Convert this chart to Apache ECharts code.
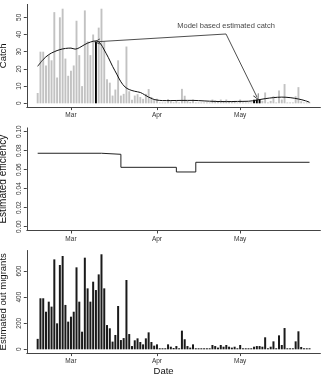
<!DOCTYPE html>
<html>
<head>
<meta charset="utf-8">
<script src="https://cdn.jsdelivr.net/npm/echarts@6/dist/echarts.min.js"></script>
<style>html,body{margin:0;padding:0;background:#fff}#c{width:327px;height:381px}</style>
</head>
<body>
<div id="c"></div>
<script>
// Day numbers are counted from 1 March (day 0). Data run from 17 Feb (day -12) to 26 May (day 86).
const startDay = -12;
const tickDays = [0, 31, 61];
const tickNames = ['Mar', 'Apr', 'May'];

// Observed catch (grey bars); null = day with model-based estimate
const catchVals = [
  6, 30, 30, 22, 28, 25, 53, 15, 50, 55, 26, 16,
  19, 22, 48, 28, 10, 54, 36, 28, 40, null, 44, 55, 36, 14, 12, 4.5, 8, 25,
  4.5, 5.5, 33, 7, 2, 4.5, 5.3, 3.7, 2.6, 5.5, 8.3, 3.7, 1.9,
  2.6, 0.5, 0.5, 0.5, 2.4, 1.2, 0.6, 1.5, 0.5, 8.4, 4.4, 1.4, 0.8, 2.2,
  0.5, 0.5, 0.5, 0.5, 0.5, 0.5, 2.2, 1.7, 0.9, 2.2, 1.4, 2.2, 1.4, 0.9, 1.4,
  0.5, 2.2, 0.5, 0.5, 0.5, 0.5, null, null, null, 1.4, 6.3, 0.5, 1.4, 4.1,
  0.5, 7.4, 2.2, 11.2, 0.5, 0.5, 0.5, 4.1, 9.4, 1.2, 0.5, 0.5, 0.5
];
// Model-based estimated catch (black bars)
const estDays = [9, 66, 67, 68];
const estVals = [35.8, 2.0, 2.2, 2.2];

// Model curve of estimated catch
const curveDays = [-12, -10, -8, -6, -4, -2, 0, 1.5, 3, 5, 7, 9, 10.5, 12, 13.5, 15, 16.5, 18, 19.5, 21, 23, 25, 26.5, 28, 29.5, 31, 33, 36, 40, 44, 48, 52, 56, 60, 64, 67, 70, 73, 76, 79, 82, 84.5, 86];
const curveVals = [21.5, 25.5, 28.3, 30, 31.2, 31.9, 32.1, 31.5, 32.3, 34.2, 35.6, 36.3, 35, 31, 26.5, 21.5, 17, 12.5, 9.5, 8, 7, 6.3, 5, 3.6, 2.5, 1.9, 1.6, 1.6, 1.7, 1.7, 1.4, 1.1, 1.0, 1.1, 1.2, 1.9, 2.7, 3.3, 3.6, 3.3, 2.5, 1.5, 0.6];

// Estimated efficiency (step function)
const effDays = [-12, 11, 18, 38, 45, 86];
const effVals = [0.0773, 0.0762, 0.0625, 0.0576, 0.0678, 0.0678];

// Estimated out migrants
const migrVals = [
  80, 391, 391, 288, 365, 327, 689, 199, 646, 715, 340, 212,
  250, 288, 628, 365, 135, 702, 467, 365, 518, 454, 574, 728, 467, 186, 161, 59, 110, 332,
  71, 86, 531, 117, 25, 69, 84, 56, 38, 84, 130, 56, 28,
  38, 8, 8, 8, 38, 20, 10, 25, 8, 143, 77, 25, 13, 38,
  8, 8, 8, 8, 8, 8, 33, 25, 13, 33, 20, 33, 20, 13, 20,
  8, 33, 8, 8, 8, 8, 20, 25, 25, 20, 92, 8, 20, 61,
  8, 107, 33, 163, 8, 8, 8, 61, 138, 18, 8, 8, 8
];

// Annotation
const annotText = 'Model based estimated catch';
const annotLabelAt = [55.9, 44.9];
const annotFrom = [55.9, 40.3];
const annotTo = [[9.4, 35.8], [67.1, 3.5]];

const days = catchVals.map((_, i) => startDay + i);
const FONT = 'Liberation Sans, Arial, Helvetica, sans-serif';
const AX = '#444';

function xAxis(gi, withName) {
  const a = {
    type: 'value', gridIndex: gi, min: -15.92, max: 89.92,
    axisLine: { show: true, onZero: false, lineStyle: { color: AX, width: 1 } },
    axisTick: { show: true, customValues: tickDays, length: 3, lineStyle: { color: AX } },
    axisLabel: { customValues: tickDays, fontSize: 6.5, color: '#333', margin: 5,
      formatter: v => tickNames[tickDays.indexOf(Math.round(v))] || '' },
    splitLine: { show: false }
  };
  if (withName) {
    a.name = 'Date'; a.nameLocation = 'middle'; a.nameGap = 12;
    a.nameTextStyle = { fontSize: 9.5, color: '#111', padding: [0, 20, 0, 0] };
  }
  return a;
}
function yAxis(gi, name, min, max, ticks, fmt, nameSize) {
  return {
    type: 'value', gridIndex: gi, min: min, max: max,
    name: name, nameLocation: 'middle', nameGap: 14,
    nameTextStyle: { fontSize: nameSize || 9.5, color: '#111' },
    axisLine: { show: true, onZero: false, lineStyle: { color: AX, width: 1 } },
    axisTick: { show: true, customValues: ticks, length: 3, lineStyle: { color: AX } },
    axisLabel: { customValues: ticks, fontSize: 6.5, color: '#333', rotate: 90, margin: 4,
      formatter: fmt || (v => String(v)) },
    splitLine: { show: false }
  };
}

const chevron = 'path://M5,0 L10,10 L8.8,10 L5,2.2 L1.2,10 L0,10 Z';
const gridBase = { left: 26.8, right: 6.6, containLabel: false, outerBoundsMode: 'none' };

const option = {
  animation: false,
  textStyle: { fontFamily: FONT },
  grid: [
    Object.assign({ top: 4.4, height: 102.7 }, gridBase),
    Object.assign({ top: 127.9, height: 102.6 }, gridBase),
    Object.assign({ top: 250.5, height: 102.6 }, gridBase)
  ],
  xAxis: [xAxis(0), xAxis(1), xAxis(2, true)],
  yAxis: [
    yAxis(0, 'Catch', -2.2, 57.5, [0, 10, 20, 30, 40, 50]),
    yAxis(1, 'Estimated efficiency', -0.004, 0.104, [0, 0.02, 0.04, 0.06, 0.08, 0.1], v => v.toFixed(2), 10),
    yAxis(2, 'Estimated out migrants', -29, 757, [0, 200, 400, 600])
  ],
  series: [
    { type: 'bar', xAxisIndex: 0, yAxisIndex: 0, barWidth: 1.9, barGap: '-100%',
      itemStyle: { color: '#c2c2c2' },
      data: catchVals.map((v, i) => [days[i], v]) },
    { type: 'bar', xAxisIndex: 0, yAxisIndex: 0, barWidth: 1.9, barGap: '-100%',
      itemStyle: { color: '#000' }, z: 3,
      data: estDays.map((d, i) => [d, estVals[i]]) },
    { type: 'line', xAxisIndex: 0, yAxisIndex: 0, smooth: 0.35, showSymbol: false, z: 4,
      lineStyle: { color: '#111', width: 1 },
      data: curveDays.map((d, i) => [d, curveVals[i]]) },
    { type: 'lines', coordinateSystem: 'cartesian2d', xAxisIndex: 0, yAxisIndex: 0, z: 5,
      symbol: ['none', chevron], symbolSize: [6, 6],
      lineStyle: { color: '#222', width: 0.8, opacity: 1, curveness: 0 },
      data: annotTo.map(t => ({ coords: [annotFrom, t] })) },
    { type: 'scatter', xAxisIndex: 0, yAxisIndex: 0, symbolSize: 0, z: 6,
      label: { show: true, position: 'inside', formatter: annotText, fontSize: 7.5, color: '#111' },
      data: [annotLabelAt] },
    { type: 'line', xAxisIndex: 1, yAxisIndex: 1, step: 'end', showSymbol: false,
      lineStyle: { color: '#222', width: 1 },
      data: effDays.map((d, i) => [d, effVals[i]]) },
    { type: 'bar', xAxisIndex: 2, yAxisIndex: 2, barWidth: 2,
      itemStyle: { color: '#1a1a1a' },
      data: migrVals.map((v, i) => [days[i], v]) }
  ]
};
echarts.init(document.getElementById('c'), null, { renderer: 'canvas' }).setOption(option);
</script>
</body>
</html>
